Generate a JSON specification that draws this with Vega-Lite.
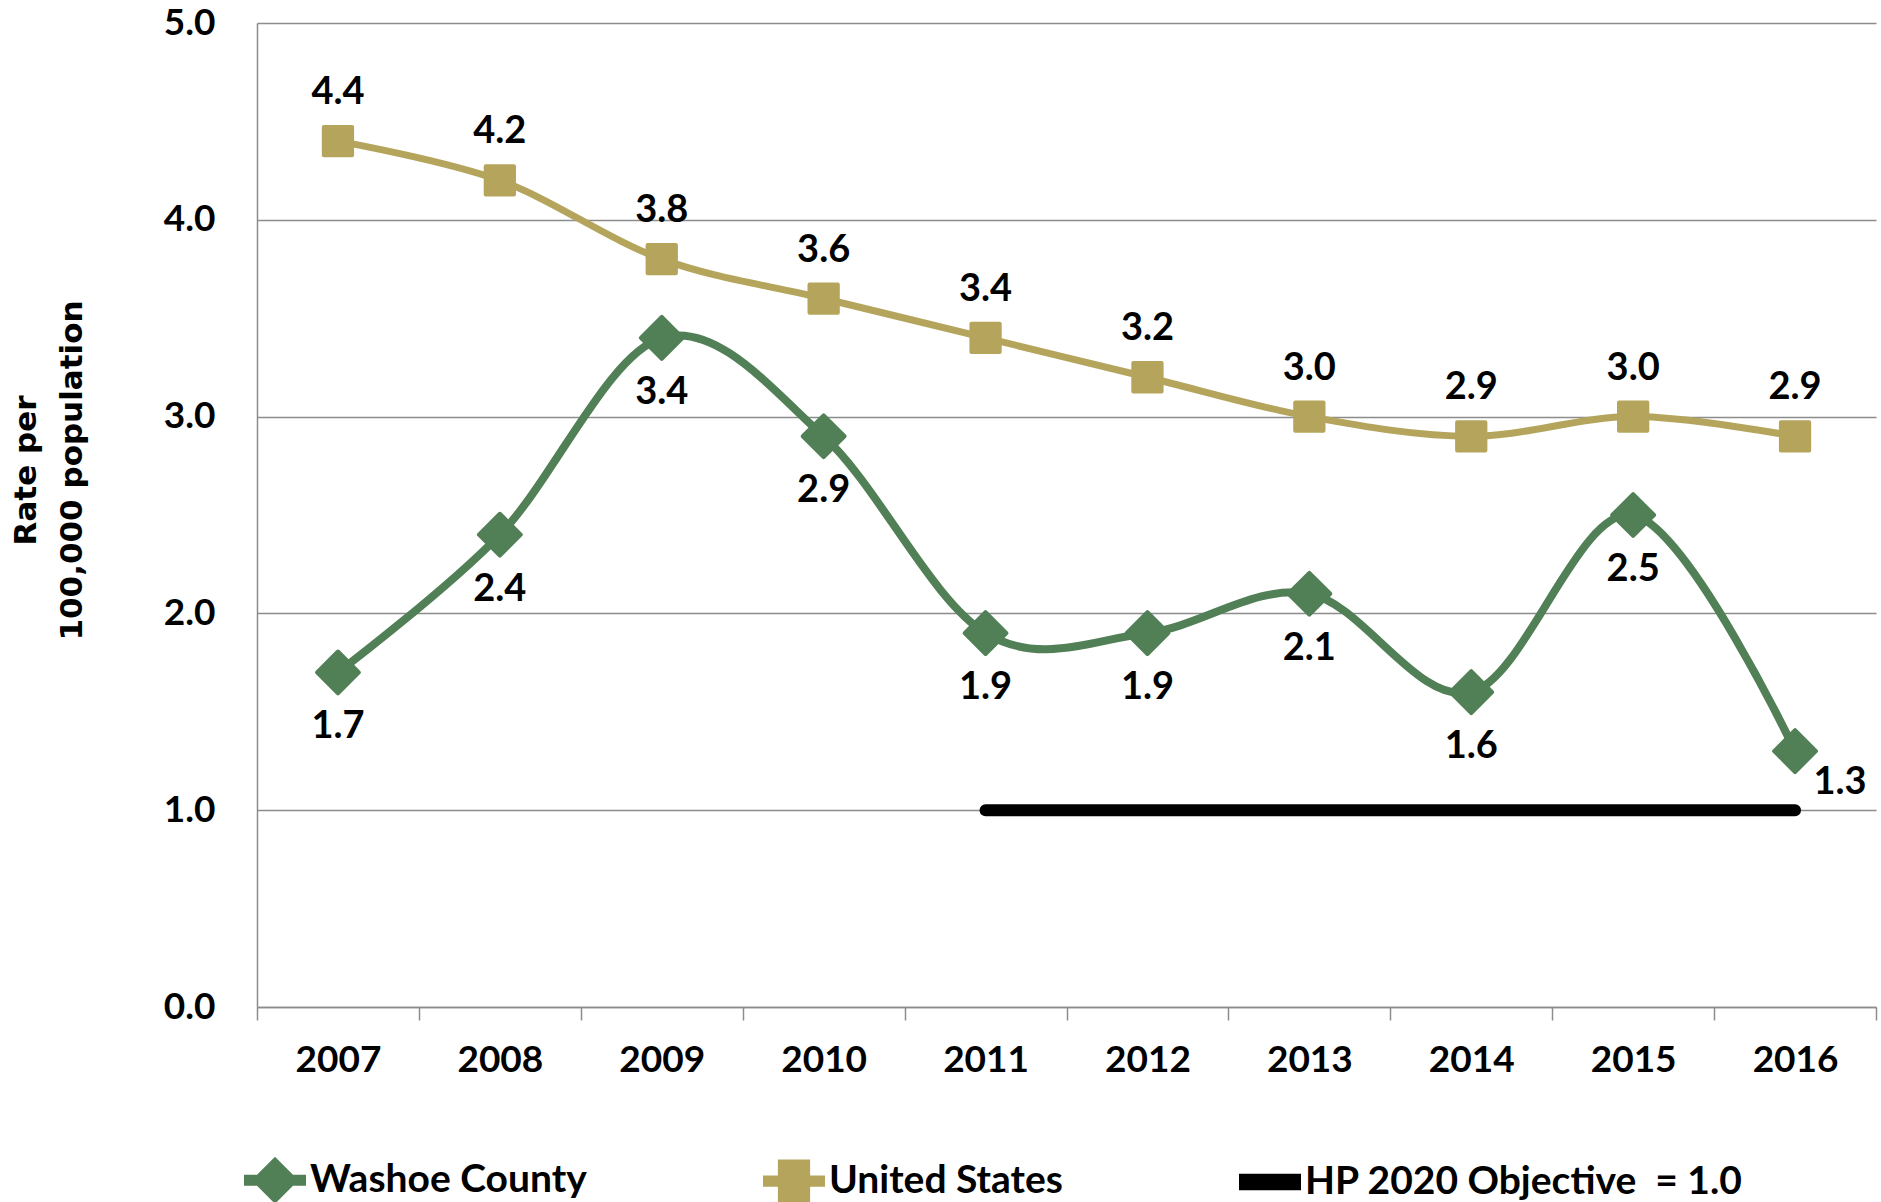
{
  "$schema": "https://vega.github.io/schema/vega-lite/v6.json",
  "width": 1619,
  "height": 984,
  "autosize": {"type": "none"},
  "padding": {"left": 257, "top": 23, "right": 5, "bottom": 195},
  "background": "white",
  "config": {"view": {"stroke": null}, "font": "Lato"},
  "data": {
    "values": [
      {"series": "Washoe County", "year": 2007, "rate": 1.7},
      {"series": "Washoe County", "year": 2008, "rate": 2.4},
      {"series": "Washoe County", "year": 2009, "rate": 3.4},
      {"series": "Washoe County", "year": 2010, "rate": 2.9},
      {"series": "Washoe County", "year": 2011, "rate": 1.9},
      {"series": "Washoe County", "year": 2012, "rate": 1.9},
      {"series": "Washoe County", "year": 2013, "rate": 2.1},
      {"series": "Washoe County", "year": 2014, "rate": 1.6},
      {"series": "Washoe County", "year": 2015, "rate": 2.5},
      {"series": "Washoe County", "year": 2016, "rate": 1.3},
      {"series": "United States", "year": 2007, "rate": 4.4},
      {"series": "United States", "year": 2008, "rate": 4.2},
      {"series": "United States", "year": 2009, "rate": 3.8},
      {"series": "United States", "year": 2010, "rate": 3.6},
      {"series": "United States", "year": 2011, "rate": 3.4},
      {"series": "United States", "year": 2012, "rate": 3.2},
      {"series": "United States", "year": 2013, "rate": 3.0},
      {"series": "United States", "year": 2014, "rate": 2.9},
      {"series": "United States", "year": 2015, "rate": 3.0},
      {"series": "United States", "year": 2016, "rate": 2.9},
      {"series": "HP 2020 Objective \u00a0= 1.0", "year": 2011, "rate": 1.0},
      {"series": "HP 2020 Objective \u00a0= 1.0", "year": 2012, "rate": 1.0},
      {"series": "HP 2020 Objective \u00a0= 1.0", "year": 2013, "rate": 1.0},
      {"series": "HP 2020 Objective \u00a0= 1.0", "year": 2014, "rate": 1.0},
      {"series": "HP 2020 Objective \u00a0= 1.0", "year": 2015, "rate": 1.0},
      {"series": "HP 2020 Objective \u00a0= 1.0", "year": 2016, "rate": 1.0}
    ]
  },
  "encoding": {
    "x": {
      "field": "year",
      "type": "ordinal",
      "scale": {"type": "band", "paddingInner": 0, "paddingOuter": 0},
      "axis": {
        "title": null,
        "tickBand": "extent",
        "labelAngle": 0,
        "labelFont": "Lato",
        "labelFontWeight": "bold",
        "labelFontSize": 37,
        "labelColor": "#000000",
        "labelPadding": 40,
        "labelBaseline": "middle",
        "tickSize": 13,
        "tickColor": "#8c8c8c",
        "tickWidth": 1.5,
        "domainColor": "#8c8c8c",
        "domainWidth": 1.5,
        "grid": false
      }
    },
    "y": {
      "field": "rate",
      "type": "quantitative",
      "scale": {"domain": [0, 5], "nice": false},
      "axis": {
        "values": [0, 1, 2, 3, 4, 5],
        "format": ".1f",
        "ticks": false,
        "labelPadding": 42,
        "labelFont": "Lato",
        "labelFontWeight": "bold",
        "labelFontSize": 37,
        "labelColor": "#000000",
        "gridColor": "#8c8c8c",
        "gridWidth": 1.5,
        "domainColor": "#8c8c8c",
        "domainWidth": 1.5,
        "title": ["Rate per", "100,000 population"],
        "titleFont": "DejaVu Sans",
        "titleFontSize": 31,
        "titleFontWeight": "bold",
        "titleColor": "#000000",
        "titleX": -231,
        "titleY": 447,
        "titleAngle": -90,
        "titleAlign": "center",
        "titleBaseline": "middle",
        "titleLineHeight": 46
      }
    },
    "color": {
      "field": "series",
      "type": "nominal",
      "scale": {
        "domain": ["Washoe County", "United States", "HP 2020 Objective \u00a0= 1.0"],
        "range": ["#517F56", "#B5A55C", "#000000"]
      },
      "legend": {
        "title": null,
        "orient": "none",
        "legendX": -13,
        "legendY": 1126,
        "direction": "horizontal",
        "columns": 3,
        "columnPadding": 176,
        "symbolSize": 3844,
        "labelFont": "Lato",
        "labelFontWeight": "bold",
        "labelFontSize": 39,
        "labelColor": "#000000",
        "labelLimit": 600,
        "labelOffset": 4,
        "padding": 0,
        "encode": {
          "symbols": {
            "update": {
              "shape": {"signal": "datum.value === 'Washoe County' ? 'M-1,-0.18H-0.58L0,-0.76L0.58,-0.18H1V0.18H0.58L0,0.76L-0.58,0.18H-1Z' : datum.value === 'United States' ? 'M-1,-0.18H-0.52V-0.7H0.52V-0.18H1V0.18H0.52V0.7H-0.52V0.18H-1Z' : 'M-1,-0.27H1V0.27H-1Z'"},
              "fill": {"scale": "color", "field": "value"},
              "stroke": {"value": "transparent"},
              "strokeWidth": {"value": 0},
              "opacity": {"value": 1}
            }
          }
        }
      }
    }
  },
  "layer": [
    {
      "transform": [{"filter": "datum.series === 'Washoe County'"}],
      "mark": {"type": "line", "interpolate": "cardinal", "tension": 0, "strokeWidth": 8}
    },
    {
      "transform": [{"filter": "datum.series === 'United States'"}],
      "mark": {"type": "line", "interpolate": "cardinal", "tension": 0, "strokeWidth": 7}
    },
    {
      "transform": [{"filter": "datum.series !== 'Washoe County' && datum.series !== 'United States'"}],
      "mark": {"type": "line", "strokeWidth": 12, "strokeCap": "round"}
    },
    {
      "transform": [{"filter": "datum.series === 'Washoe County'"}],
      "mark": {"type": "point", "shape": "diamond", "filled": true, "size": 1750, "opacity": 1, "stroke": "#517F56", "strokeWidth": 4, "strokeJoin": "round"}
    },
    {
      "transform": [{"filter": "datum.series === 'United States'"}],
      "mark": {"type": "point", "shape": "square", "filled": true, "size": 800, "opacity": 1, "stroke": "#B5A55C", "strokeWidth": 4, "strokeJoin": "round"}
    },
    {
      "transform": [{"filter": "datum.series === 'Washoe County' && datum.year != 2016"}],
      "mark": {"type": "text", "dy": 55, "font": "Lato", "fontWeight": "bold", "fontSize": 38, "baseline": "middle", "align": "center"},
      "encoding": {"text": {"field": "rate", "type": "quantitative", "format": ".1f"}, "color": {"value": "#000000"}}
    },
    {
      "transform": [{"filter": "datum.series === 'Washoe County' && datum.year == 2016"}],
      "mark": {"type": "text", "dx": 45, "dy": 32, "font": "Lato", "fontWeight": "bold", "fontSize": 38, "baseline": "middle", "align": "center"},
      "encoding": {"text": {"field": "rate", "type": "quantitative", "format": ".1f"}, "color": {"value": "#000000"}}
    },
    {
      "transform": [{"filter": "datum.series === 'United States'"}],
      "mark": {"type": "text", "dy": -48, "font": "Lato", "fontWeight": "bold", "fontSize": 38, "baseline": "middle", "align": "center"},
      "encoding": {"text": {"field": "rate", "type": "quantitative", "format": ".1f"}, "color": {"value": "#000000"}}
    }
  ]
}
